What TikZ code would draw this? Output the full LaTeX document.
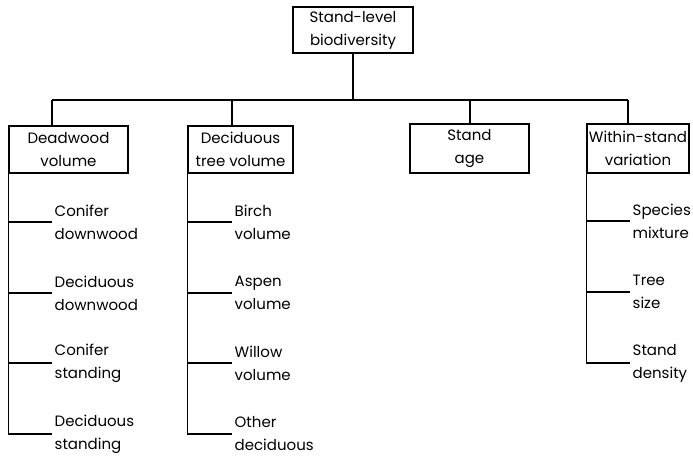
\documentclass[tikz,border=0pt]{standalone}
\usepackage{fontspec}
\setmainfont{Poppins}
\begin{document}
\begin{tikzpicture}[x=1pt,y=-1pt]
\tikzset{boite/.style={draw, line width=1.1pt, align=center, font=\fontsize{15}{23}\selectfont, inner sep=0pt},
feuille/.style={anchor=west, align=left, font=\fontsize{15}{23}\selectfont, inner sep=0pt, inner xsep=2.5pt},
trait/.style={line width=1.1pt}}
\useasboundingbox[fill=white] (0,0) rectangle (693,457);
\node[boite, minimum width=120pt, minimum height=46pt] (racine) at (353,30) {Stand-level\\biodiversity};
\node[boite, minimum width=119pt, minimum height=47pt] (bois) at (68.5,149.5) {Deadwood\\volume};
\node[boite, minimum width=105pt, minimum height=47pt] (feuillu) at (240.5,149.5) {Deciduous\\tree volume};
\node[boite, minimum width=119pt, minimum height=49pt] (age) at (469.5,148.5) {Stand\\age};
\node[boite, minimum width=102pt, minimum height=49pt] (intra) at (638,148.5) {Within-stand\\variation};
\coordinate (busG) at (52,100);
\coordinate (busD) at (628,100);
\coordinate (busA) at (470,100);
\draw[trait] (racine.south) -- (racine.south |- busG);
\draw[trait] (busG) -- (busD);
\draw[trait] (busG) -- (busG |- bois.north);
\draw[trait] (feuillu.north -| 232,0) -- (232,100);
\draw[trait] (busA) -- (busA |- age.north);
\draw[trait] (busD) -- (busD |- intra.north);
% bois mort
\node[feuille] (B1) at (52,222) {Conifer\\downwood};
\node[feuille] (B2) at (52,293) {Deciduous\\downwood};
\node[feuille] (B3) at (52,363) {Conifer\\standing};
\node[feuille] (B4) at (52,434) {Deciduous\\standing};
\draw[trait] (bois.south west) -- (bois.south west |- B4.west);
\foreach \i in {1,...,4} \draw[trait] (B\i.west -| bois.south west) -- (B\i.west);
% feuillus
\node[feuille] (F1) at (232,222) {Birch\\volume};
\node[feuille] (F2) at (232,293) {Aspen\\volume};
\node[feuille] (F3) at (232,363) {Willow\\volume};
\node[feuille] (F4) at (232,434) {Other\\deciduous};
\draw[trait] (feuillu.south west) -- (feuillu.south west |- F4.west);
\foreach \i in {1,...,4} \draw[trait] (F\i.west -| feuillu.south west) -- (F\i.west);
% variation
\node[feuille] (V1) at (630,221) {Species\\mixture};
\node[feuille] (V2) at (630,292) {Tree\\size};
\node[feuille] (V3) at (630,363) {Stand\\density};
\draw[trait] (intra.south west) -- (intra.south west |- V3.west);
\foreach \i in {1,...,3} \draw[trait] (V\i.west -| intra.south west) -- (V\i.west);
\end{tikzpicture}
\end{document}
